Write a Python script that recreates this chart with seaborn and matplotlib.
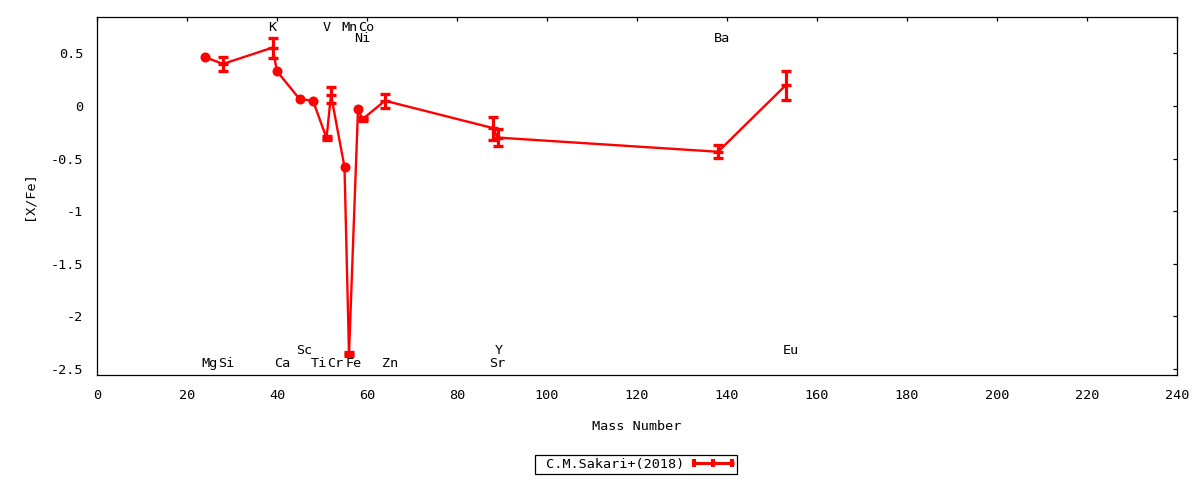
import numpy as np
import matplotlib
matplotlib.use("Agg")
import matplotlib.pyplot as plt
import seaborn as sns
import pandas as pd
from matplotlib.legend_handler import HandlerBase
from matplotlib.lines import Line2D
from matplotlib.ticker import FuncFormatter, MultipleLocator

# ---- data ----
elements = ["Mg", "Si", "K", "Ca", "Sc", "Ti", "V", "Cr", "Mn", "Fe",
            "Ni", "Co", "Zn", "Sr", "Y", "Ba", "Eu"]
mass = [24, 28, 39, 40, 45, 48, 51, 52, 55, 56, 58, 59, 64, 88, 89, 138, 153]
xfe = [0.465, 0.40, 0.555, 0.33, 0.067, 0.05, -0.305, 0.105, -0.58, -2.36,
       -0.03, -0.125, 0.05, -0.21, -0.30, -0.435, 0.195]
err = [np.nan, 0.07, 0.095, np.nan, np.nan, np.nan, 0.02, 0.075, np.nan, 0.02,
       np.nan, 0.02, 0.065, 0.11, 0.08, 0.06, 0.14]

# element label annotations (text, x, y)
label_text = ["K", "V", "Mn", "Co", "Ni", "Ba", "Sc", "Y", "Eu",
              "Mg", "Si", "Ca", "Ti", "Cr", "Fe", "Zn", "Sr"]
label_x = [39.0, 51.0, 56.2, 59.9, 59.0, 138.9, 46.0, 89.4, 154.1,
           25.1, 28.8, 41.1, 49.3, 52.9, 57.1, 65.1, 89.0]
label_y = [0.744, 0.744, 0.744, 0.744, 0.646, 0.646, -2.32, -2.32, -2.32,
           -2.443, -2.443, -2.443, -2.443, -2.443, -2.443, -2.443, -2.443]

series_name = "C.M.Sakari+(2018)"
xticks = list(range(0, 241, 20))
yticks = [-2.5, -2, -1.5, -1, -0.5, 0, 0.5]

df = pd.DataFrame({"mass": mass, "xfe": xfe, "err": err, "el": elements})

sns.set_theme(style="white")
plt.rcParams["font.family"] = ["DejaVu Sans Mono", "DejaVu Sans"]
plt.rcParams["font.size"] = 9.7

fig = plt.figure(figsize=(12, 4.8), dpi=100)
ax = fig.add_axes([97 / 1200, 1 - 375 / 480, 1080 / 1200, 358 / 480])

red = "#ff0000"
sns.lineplot(data=df, x="mass", y="xfe", sort=False, estimator=None,
             color=red, linewidth=1.7, ax=ax, legend=False)

noerr = df[df["err"].isna()]
sns.scatterplot(data=noerr, x="mass", y="xfe", color=red, s=52,
                edgecolor=red, linewidth=0, ax=ax, legend=False, zorder=3)

witherr = df[df["err"].notna()]
ax.errorbar(witherr["mass"], witherr["xfe"], yerr=witherr["err"], fmt="none",
            ecolor=red, elinewidth=2.3, capsize=3.4, capthick=2.4, zorder=3)
ax.plot(witherr["mass"], witherr["xfe"], linestyle="none", marker="_",
        markersize=7.5, markeredgewidth=2.4, color=red, zorder=3)

for t, x, y in zip(label_text, label_x, label_y):
    ax.text(x, y, t, ha="center", va="center", color="black", fontsize=9.7)

ax.set_xlim(0, 240)
ax.set_ylim(-2.557, 0.846)
ax.set_xticks(xticks)
ax.set_yticks(yticks)
ax.yaxis.set_major_formatter(FuncFormatter(lambda v, p: "%g" % v))
ax.xaxis.set_major_formatter(FuncFormatter(lambda v, p: "%g" % v))
ax.tick_params(direction="in", top=True, right=True, length=3.2, width=0.9,
               color="black", labelcolor="black", pad=10, labelsize=9.7)
for s in ax.spines.values():
    s.set_color("black")
    s.set_linewidth(0.9)
ax.set_xlabel("Mass Number", color="black", fontsize=9.7, labelpad=13)
ax.set_ylabel("[X/Fe]", color="black", fontsize=9.7, labelpad=11)
ax.grid(False)


class ErrHandler(HandlerBase):
    def create_artists(self, legend, orig_handle, xdescent, ydescent,
                       width, height, fontsize, trans):
        y = height / 2 - ydescent
        x0 = -xdescent
        x1 = x0 + width
        xm = (x0 + x1) / 2
        h = 3.0
        arts = [Line2D([x0, x1], [y, y], color=red, lw=2.2, transform=trans,
                       solid_capstyle="butt")]
        for xx in (x0 + 1.2, xm, x1 - 1.2):
            arts.append(Line2D([xx, xx], [y - h, y + h], color=red, lw=3.0,
                               transform=trans, solid_capstyle="butt"))
        return arts


proxy = Line2D([], [], color=red)
leg = fig.legend(handles=[proxy], labels=[" " + series_name], loc="center",
                 bbox_to_anchor=(636 / 1200, 1 - 464.5 / 480),
                 handler_map={proxy: ErrHandler()}, frameon=True,
                 fancybox=False, edgecolor="black", framealpha=1,
                 borderpad=0.25, handlelength=3.1, handletextpad=0.6,
                 markerfirst=False, fontsize=9.7)
leg.get_frame().set_linewidth(0.9)
for txt in leg.get_texts():
    txt.set_color("black")

fig.savefig("out.png", dpi=100)
